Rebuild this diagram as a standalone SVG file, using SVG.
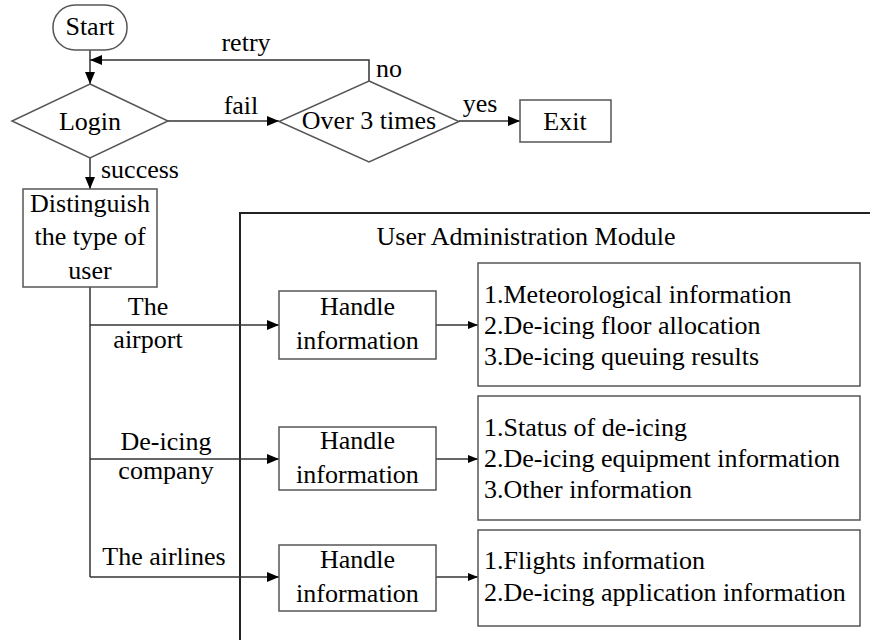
<svg xmlns="http://www.w3.org/2000/svg" width="870" height="640" viewBox="0 0 870 640">
<defs>
<marker id="arr" viewBox="0 0 12 10" refX="12" refY="5" markerWidth="12" markerHeight="10" orient="auto" markerUnits="userSpaceOnUse"><path d="M0,0 L12,5 L0,10 z" fill="#000"/></marker>
<marker id="arrs" viewBox="0 0 10 8" refX="10" refY="4" markerWidth="10" markerHeight="8" orient="auto" markerUnits="userSpaceOnUse"><path d="M0,0 L10,4 L0,8 z" fill="#000"/></marker>
</defs>
<g id="module">
<path fill="none" stroke="#222" stroke-width="2" d="M240,640 V213 H870"/>
<text font-family="Liberation Serif, Times New Roman, serif" font-size="26" text-anchor="middle" x="526" y="245">User Administration Module</text>
</g>
<g id="connectors" fill="none" stroke="#333" stroke-width="1.5">
<path d="M90,50 V84" marker-end="url(#arr)"/>
<path d="M369,81 V60 H90" marker-end="url(#arr)"/>
<path d="M168,121 H279" marker-end="url(#arr)"/>
<path d="M459,121 H520" marker-end="url(#arr)"/>
<path d="M90,158 V189" marker-end="url(#arr)"/>
<path d="M90,287 V577"/>
<path d="M90,325 H279" marker-end="url(#arr)"/>
<path d="M90,459 H279" marker-end="url(#arr)"/>
<path d="M90,577 H279" marker-end="url(#arr)"/>
<path d="M436,325 H478" marker-end="url(#arrs)"/>
<path d="M436,459 H478" marker-end="url(#arrs)"/>
<path d="M436,577 H478" marker-end="url(#arrs)"/>
</g>
<g id="labels">
<text font-family="Liberation Serif, Times New Roman, serif" font-size="26" x="246" y="51" text-anchor="middle">retry</text>
<text font-family="Liberation Serif, Times New Roman, serif" font-size="26" x="376" y="77">no</text>
<text font-family="Liberation Serif, Times New Roman, serif" font-size="26" x="241" y="114" text-anchor="middle">fail</text>
<text font-family="Liberation Serif, Times New Roman, serif" font-size="26" x="480" y="112" text-anchor="middle">yes</text>
<text font-family="Liberation Serif, Times New Roman, serif" font-size="26" x="101" y="178">success</text>
<text font-family="Liberation Serif, Times New Roman, serif" font-size="26" x="148" y="315" text-anchor="middle">The</text>
<text font-family="Liberation Serif, Times New Roman, serif" font-size="26" x="148" y="348" text-anchor="middle">airport</text>
<text font-family="Liberation Serif, Times New Roman, serif" font-size="26" x="166" y="450" text-anchor="middle">De-icing</text>
<text font-family="Liberation Serif, Times New Roman, serif" font-size="26" x="166" y="479" text-anchor="middle">company</text>
<text font-family="Liberation Serif, Times New Roman, serif" font-size="26" x="164" y="565" text-anchor="middle">The airlines</text>
</g>
<g id="start">
<rect fill="#fff" stroke="#555" stroke-width="1.5" x="53" y="5" width="74" height="45" rx="22"/>
<text font-family="Liberation Serif, Times New Roman, serif" font-size="26" text-anchor="middle" x="90" y="35">Start</text>
</g>
<g id="login">
<polygon fill="#fff" stroke="#555" stroke-width="1.5" points="90,84 168,121 90,158 12,121"/>
<text font-family="Liberation Serif, Times New Roman, serif" font-size="26" text-anchor="middle" x="90" y="130">Login</text>
</g>
<g id="over3">
<polygon fill="#fff" stroke="#555" stroke-width="1.5" points="369,81 459,121.5 369,162 279,121.5"/>
<text font-family="Liberation Serif, Times New Roman, serif" font-size="26" text-anchor="middle" x="369" y="129">Over 3 times</text>
</g>
<g id="exit">
<rect fill="#fff" stroke="#555" stroke-width="1.5" x="520" y="100" width="91" height="42"/>
<text font-family="Liberation Serif, Times New Roman, serif" font-size="26" text-anchor="middle" x="565" y="130">Exit</text>
</g>
<g id="distinguish">
<rect fill="#fff" stroke="#555" stroke-width="1.5" x="23" y="189" width="134" height="98"/>
<text font-family="Liberation Serif, Times New Roman, serif" font-size="26" text-anchor="middle" x="90" y="212">Distinguish</text>
<text font-family="Liberation Serif, Times New Roman, serif" font-size="26" text-anchor="middle" x="90" y="245">the type of</text>
<text font-family="Liberation Serif, Times New Roman, serif" font-size="26" text-anchor="middle" x="90" y="279">user</text>
</g>
<g id="handle1">
<rect fill="#fff" stroke="#555" stroke-width="1.5" x="279" y="291" width="157" height="68"/>
<text font-family="Liberation Serif, Times New Roman, serif" font-size="26" text-anchor="middle" x="357.5" y="315">Handle</text>
<text font-family="Liberation Serif, Times New Roman, serif" font-size="26" text-anchor="middle" x="357.5" y="349">information</text>
</g>
<g id="handle2">
<rect fill="#fff" stroke="#555" stroke-width="1.5" x="279" y="427" width="157" height="63"/>
<text font-family="Liberation Serif, Times New Roman, serif" font-size="26" text-anchor="middle" x="357.5" y="449">Handle</text>
<text font-family="Liberation Serif, Times New Roman, serif" font-size="26" text-anchor="middle" x="357.5" y="483">information</text>
</g>
<g id="handle3">
<rect fill="#fff" stroke="#555" stroke-width="1.5" x="279" y="545" width="157" height="66"/>
<text font-family="Liberation Serif, Times New Roman, serif" font-size="26" text-anchor="middle" x="357.5" y="568">Handle</text>
<text font-family="Liberation Serif, Times New Roman, serif" font-size="26" text-anchor="middle" x="357.5" y="602">information</text>
</g>
<g id="info1">
<rect fill="#fff" stroke="#555" stroke-width="1.5" x="478" y="263" width="382" height="123"/>
<text font-family="Liberation Serif, Times New Roman, serif" font-size="26" x="484" y="303">1.Meteorological information</text>
<text font-family="Liberation Serif, Times New Roman, serif" font-size="26" x="484" y="334">2.De-icing floor allocation</text>
<text font-family="Liberation Serif, Times New Roman, serif" font-size="26" x="484" y="365">3.De-icing queuing results</text>
</g>
<g id="info2">
<rect fill="#fff" stroke="#555" stroke-width="1.5" x="478" y="396" width="382" height="124"/>
<text font-family="Liberation Serif, Times New Roman, serif" font-size="26" x="484" y="436">1.Status of de-icing</text>
<text font-family="Liberation Serif, Times New Roman, serif" font-size="26" x="484" y="467">2.De-icing equipment information</text>
<text font-family="Liberation Serif, Times New Roman, serif" font-size="26" x="484" y="498">3.Other information</text>
</g>
<g id="info3">
<rect fill="#fff" stroke="#555" stroke-width="1.5" x="478" y="530" width="382" height="96"/>
<text font-family="Liberation Serif, Times New Roman, serif" font-size="26" x="484" y="569">1.Flights information</text>
<text font-family="Liberation Serif, Times New Roman, serif" font-size="26" x="484" y="601">2.De-icing application information</text>
</g>
</svg>
